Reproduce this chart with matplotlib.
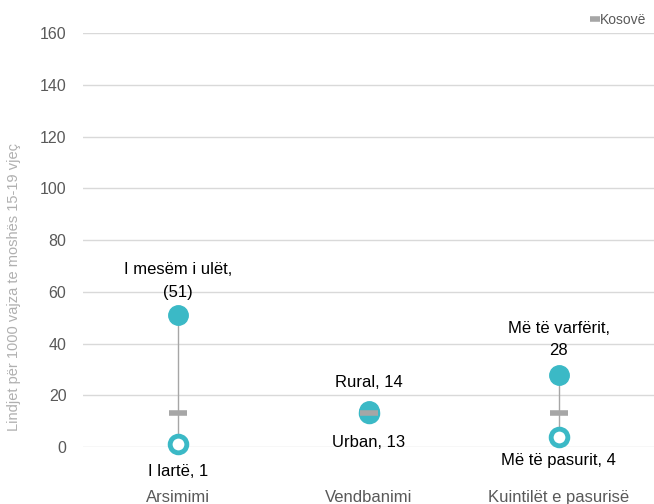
import matplotlib.pyplot as plt

categories = ["Arsimimi", "Vendbanimi", "Kuintilët e pasurisë"]
high_vals = [51, 14, 28]
low_vals = [1, 13, 4]
kosovo_vals = [13, 13, 13]
high_labels = ["I mesëm i ulët,\n(51)", "Rural, 14", "Më të varfërit,\n28"]
low_labels = ["I lartë, 1", "Urban, 13", "Më të pasurit, 4"]
yticks = [0, 20, 40, 60, 80, 100, 120, 140, 160]

teal = "#3BB9C6"
grey = "#A6A6A6"

plt.rcParams['font.family'] = ['Liberation Sans', 'DejaVu Sans']

fig = plt.figure(figsize=(6.54, 5.04), dpi=100)
ax = fig.add_axes([0.127, 0.1131, 0.873, 0.8214])

x = list(range(len(categories)))

for i in x:
    ax.plot([i, i], [low_vals[i], high_vals[i]], color=grey, lw=1, zorder=2)

ax.plot(x, low_vals, 'o', ms=12, mfc='white', mec=teal, mew=3.5, zorder=3, clip_on=False)
ax.plot(x, high_vals, 'o', ms=14, color=teal, mec=teal, zorder=4, clip_on=False)
ax.plot(x, kosovo_vals, '_', ms=13, mew=4, color=grey, zorder=5, label="Kosovë")

# data labels
ax.text(0, 57, high_labels[0], ha='center', va='bottom', fontsize=12, linespacing=1.6)
ax.text(1, 22, high_labels[1], ha='center', va='bottom', fontsize=12)
ax.text(2, 34.5, high_labels[2], ha='center', va='bottom', fontsize=12, linespacing=1.6)
ax.text(0, -6.5, low_labels[0], ha='center', va='top', fontsize=12)
ax.text(1, 4.5, low_labels[1], ha='center', va='top', fontsize=12)
ax.text(2, -2.5, low_labels[2], ha='center', va='top', fontsize=12)

ax.set_xlim(-0.5, 2.5)
ax.set_ylim(0, 160)
ax.set_yticks(yticks)
ax.set_xticks(x)
ax.set_xticklabels(categories, fontsize=12, color="#595959")
ax.tick_params(axis='x', length=0, pad=31)
ax.tick_params(axis='y', length=0, pad=12, labelsize=11.5, labelcolor="#595959")
ax.grid(axis='y', color="#D9D9D9", lw=1)
ax.set_axisbelow(True)
for s in ax.spines.values():
    s.set_visible(False)

fig.text(0.021, 0.43, "Lindjet për 1000 vajza te moshës 15-19 vjeç", rotation=90,
         ha='center', va='center', fontsize=10.5, color="#B0B0B0")

leg = fig.legend(loc='upper right', bbox_to_anchor=(1.008, 1.0), frameon=False,
                 fontsize=10, handlelength=0.5, handletextpad=0.1, markerscale=0.6,
                 labelcolor="#595959")

fig.savefig("out.png", dpi=100)
